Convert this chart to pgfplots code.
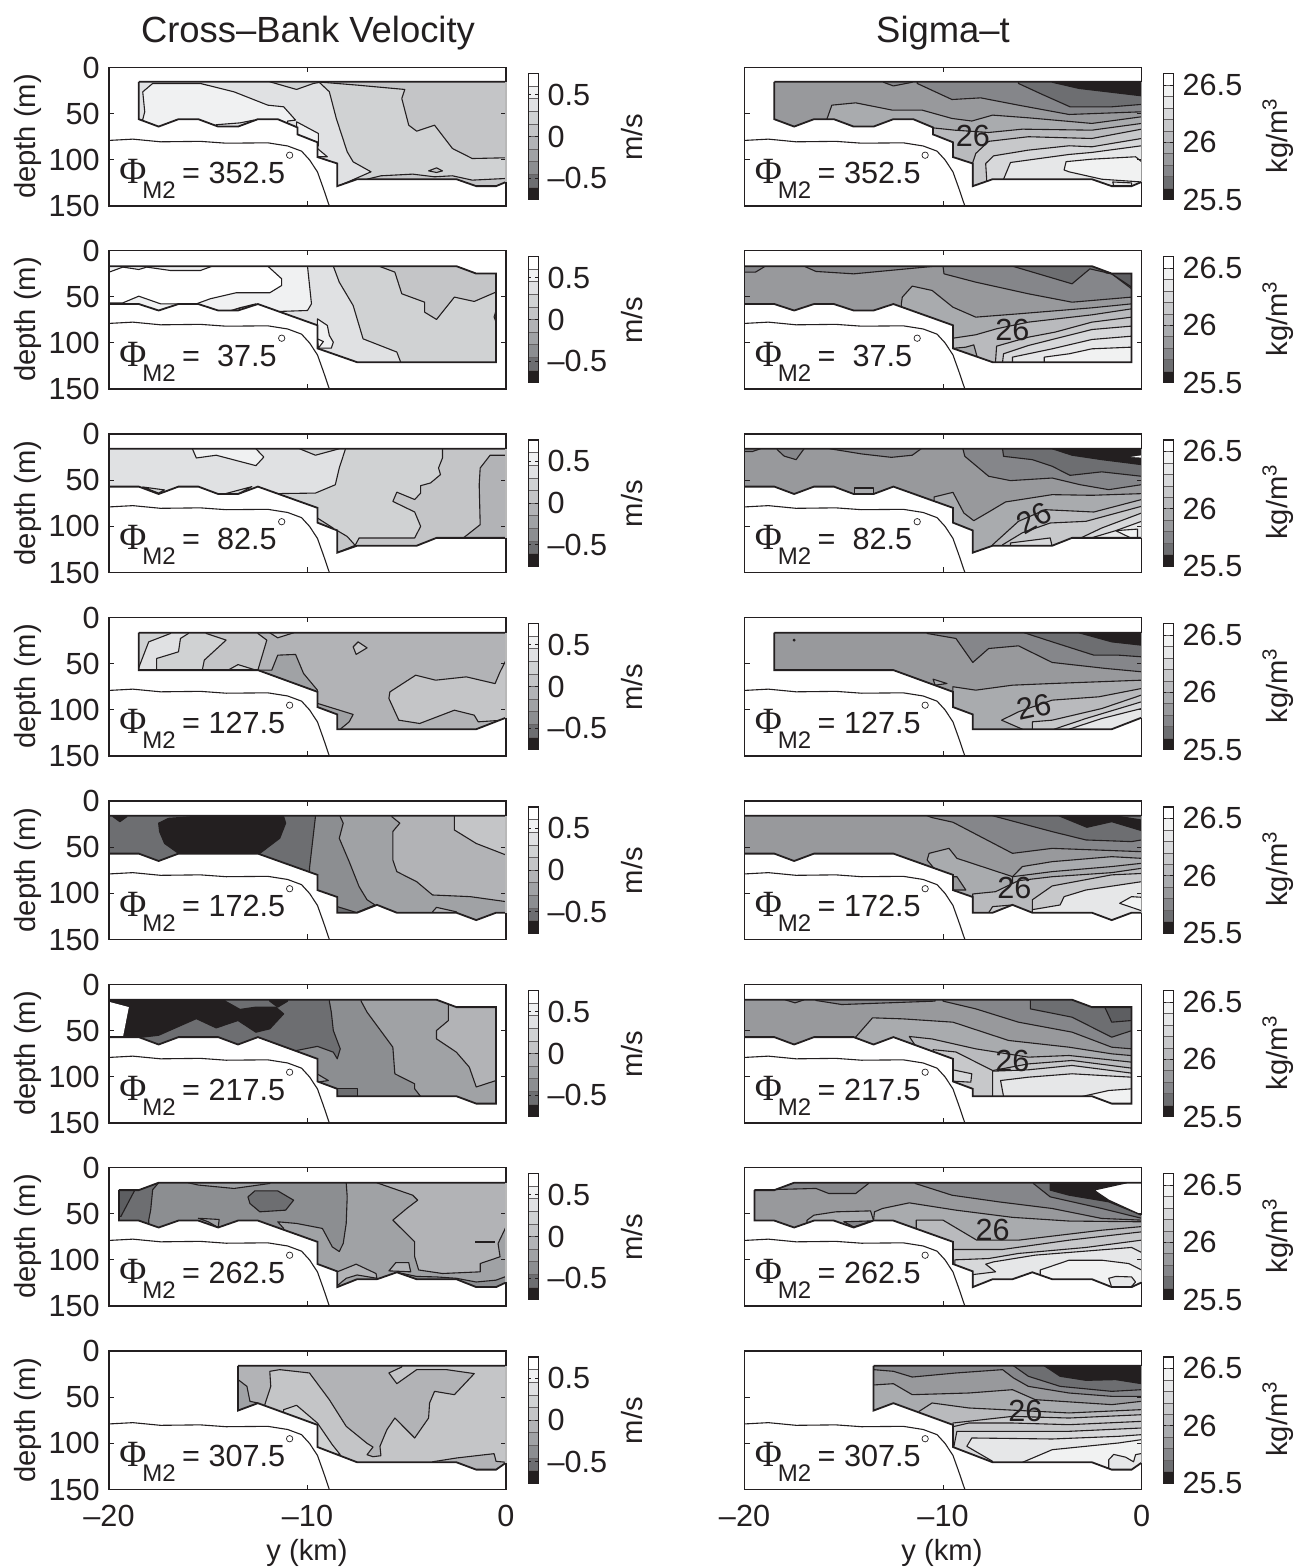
\documentclass[border=0pt]{standalone}
\usepackage{pgfplots}
\pgfplotsset{compat=1.18}
\usepackage{fontspec}
\setmainfont{Liberation Sans}
\newfontfamily\phifont{Liberation Serif}
\definecolor{txt}{HTML}{231F20}
\definecolor{V1}{HTML}{231F20}\definecolor{V2}{HTML}{6D6E71}\definecolor{V3}{HTML}{8C8E91}
\definecolor{V4}{HTML}{A0A2A5}\definecolor{V5}{HTML}{B2B3B6}\definecolor{V6}{HTML}{C4C5C7}
\definecolor{V7}{HTML}{D0D2D3}\definecolor{V8}{HTML}{E0E1E3}\definecolor{V9}{HTML}{F0F1F2}\definecolor{V10}{HTML}{FFFFFF}
\definecolor{VD}{HTML}{5D5E61}
\definecolor{D1}{HTML}{231F20}\definecolor{D2}{HTML}{6D6E71}\definecolor{D3}{HTML}{85868A}
\definecolor{D4}{HTML}{98999C}\definecolor{D5}{HTML}{A9ABAE}\definecolor{D6}{HTML}{B9BABD}
\definecolor{D7}{HTML}{C7C8CA}\definecolor{D8}{HTML}{D7D8DA}\definecolor{D9}{HTML}{E6E7E8}\definecolor{D10}{HTML}{F1F2F2}
\pgfplotsset{
 panel/.style={scale only axis,width=198.5pt,height=69.25pt,xmin=-20,xmax=0,ymin=0,ymax=150,y dir=reverse,
  anchor=north west,xtick={-20,-10,0},ytick={0,50,100,150},xticklabels={},yticklabels={},
  tick align=inside,major tick length=2.5pt,axis on top,
  every tick/.style={draw=txt,line width=.4pt},axis line style={draw=txt,line width=.9pt},
  tick label style={font=\fontsize{15.3}{15.3}\selectfont,inner sep=0pt},
  yticklabel style={xshift=-4.5pt},xticklabel style={yshift=-7.5pt}},
 lft/.style={at={({109*0.5pt},{(1568-#1)*0.5pt})}},
 rgt/.style={at={({744.5*0.5pt},{(1568-#1)*0.5pt})}},
 ylab/.style={yticklabels={0,50,100,150}},
 xlab/.style={xticklabels={–20,–10,0}},
 cb/.style={scale only axis,width=5pt,height=63pt,xmin=0,xmax=1,anchor=north west,xtick=\empty,
  tick align=inside,major tick length=1.5pt,axis on top,yticklabel pos=right,ytick pos=both,
  every tick/.style={draw=txt,line width=.4pt},axis line style={draw=txt,line width=.7pt},
  tick label style={font=\fontsize{15.3}{15.3}\selectfont,inner sep=0pt},yticklabel style={xshift=4.5pt}}
}
\newcommand\R[2]{\addplot[fill=#1,draw=txt,line width=.55pt,line join=round] coordinates {#2} -- cycle;}
\newcommand\B[1]{\addplot[fill=#1,draw=none] coordinates {(-25,-5)(5,-5)(5,200)(-25,200)} -- cycle;}
\newcommand\M[2]{%
 \addplot[fill=white,draw=none,even odd rule] coordinates {(-30,-20)(10,-20)(10,200)(-30,200)(-30,-20) #1 #2 #1} -- cycle;
 \addplot[draw=txt,line width=.9pt,line join=miter] coordinates {#1 #2 #1};
 \addplot[draw=txt,line width=.55pt] coordinates {(-20,79)(-18.8,77.6)(-17.4,80.5)(-15.4,80)(-14.1,82)(-12,81.6)(-11,85)(-10.3,90.6)(-9.9,100)(-9.5,113)(-9.2,131)(-8.9,150)};}
\newcommand\Ann[2]{%
 \node[anchor=base west,inner sep=0pt] at (axis cs:-19.5,125.5) {\fontsize{15.3}{15.3}\selectfont{\phifont\fontsize{18.5}{18.5}\selectfont Φ}\kern-2pt\raisebox{-7.5pt}{\fontsize{12}{12}\selectfont M2}\kern-1pt{} = #1};
 \addplot[only marks,mark=o,mark size=1.6pt,mark options={draw=txt,fill=white,line width=.35pt}] coordinates {(#2,95)};}
\newcommand\Lab[3]{\node[rotate=#3,inner sep=0pt] at (axis cs:#1,#2) {\fontsize{15.3}{15.3}\selectfont 26};}
\newcommand\Cell[3]{\addplot[fill=#1,draw=txt!70,line width=.25pt] coordinates {(0,#2)(1,#2)(1,#3)(0,#3)} -- cycle;}
\newcommand\At[3][]{\node[inner sep=0pt,#1] at ({#2*0.5pt},{(1568-(#3))*0.5pt})}
\begin{document}
\color{txt}
\begin{tikzpicture}
\path[use as bounding box] (0,0) rectangle (647.5pt,784pt);
% ---------- left column: cross-bank velocity
\begin{axis}[panel,lft=67.5,ylab]
\B{V7}
\R{V8}{(-11.9,15.5)(-10.55,23.8)(-9.7,17.3)(-9.4,16.2)(-8.9,26.3)(-8.55,55.2)(-8,91.3)(-7.7,102.2)(-6.8,113)(-8.5,129)(-8.5,170)(-25,170)(-25,10)(-11.9,10)}
\R{V9}{(-18.3,56.3)(-18.2,48)(-18.3,26.4)(-17.8,17.3)(-15.4,17.3)(-13.7,26.4)(-12,40.8)(-11.2,42.6)(-10.6,57)(-11,58)(-11,80)(-18.3,80)}
\R{V8}{(-14.6,62)(-13.4,60)(-12.7,57)(-13.3,66)(-14.5,66)}
\R{V9}{(-10.55,58.8)(-9.45,71.5)(-9.45,85)(-10.55,78)}
\R{V9}{(-9.5,87.7)(-9,96.7)(-9.5,96.7)}
\R{V6}{(-9.55,15.5)(-7.5,19.1)(-5.1,23.8)(-5.25,33.6)(-4.9,62.5)(-4.5,69)(-3.6,62.5)(-2.7,87.7)(-1.7,98.6)(0,97.8)(5,97.8)(5,10)(-9.55,10)}
\R{V6}{(-7,121)(-6.3,117.3)(-4.7,115.5)(-3.6,118.4)(-2.7,117.3)(-1.7,122)(0,120.2)(5,120.2)(5,170)(-7,170)}
\R{V6}{(-3.9,112)(-3.5,108.7)(-3.2,112)(-3.5,113.7)}
\M{(-18.5,15.5)}{(3,15.5)(3,124)(0,124)(-0.5,128.5)(-1.5,128.5)(-2.5,121)(-7.5,121)(-8.5,128.5)(-8.5,104)(-9.5,97)(-9.5,81)(-10.5,72.5)(-10.5,65)(-11.5,56)(-12.5,56)(-13.5,64)(-14.5,64)(-15.5,56)(-16.5,56)(-17.5,64)(-18.5,56)}
\Ann{352.5}{-10.9}
\end{axis}
\begin{axis}[panel,lft=250.5,ylab]
\B{V7}
\R{V8}{(-8.7,17)(-8.4,34.3)(-7.7,59.6)(-7.2,95.7)(-5.5,110)(-5.3,121.3)(-5.3,170)(-25,170)(-25,10)(-8.7,10)}
\R{V9}{(-10,17)(-9.8,57.8)(-10,65)(-11.4,66)(-11.4,170)(-25,170)(-25,10)(-10,10)}
\R{V10}{(-25,23.5)(-20,23.5)(-19.3,18)(-18.5,20.6)(-18.1,18)(-16.9,21.7)(-15.4,21.7)(-14.8,17)(-12,17)(-11.3,30.7)(-11.3,37.9)(-11.9,45.8)(-13.6,45.8)(-14.9,52.3)(-15.6,57.8)(-17.4,57.8)(-18.5,49.5)(-19.3,56.7)(-25,56.7)}
\R{V8}{(-14,66)(-12.6,57.8)(-13.4,62)}
\R{V6}{(-6.4,17)(-5.6,23.4)(-5.25,46.9)(-4.1,56)(-4.1,66.8)(-3.5,74.7)(-2.6,50.5)(-1.6,55.2)(-0.5,45)(5,45)(5,10)(-6.4,10)}
\R{V9}{(-9.5,74)(-9,81.2)(-8.9,92)(-8.7,99.3)(-8.8,105.8)(-9.5,105.8)}
\R{V10}{(-9.5,95.7)(-9.2,98.6)(-9.45,105.8)}
\R{V8}{(-0.5,65)(-0.6,72)(-0.5,77.6)}
\M{(-25,17)}{(-2.5,17)(-1.5,25)(-0.5,25)(-0.5,121)(-7.5,121)(-9.5,106)(-9.5,81)(-12.5,58)(-13.5,65)(-14.5,65)(-15.5,58)(-16.5,58)(-17.5,65)(-18.5,58)(-25,58)}
\Ann{\ 37.5}{-11.3}
\end{axis}
\begin{axis}[panel,lft=434,ylab]
\B{V6}
\R{V5}{(-0.8,23)(-1.3,36.8)(-1.35,54.9)(-1.3,98.2)(-2.15,112.6)(-2.15,170)(5,170)(5,23)}
\R{V7}{(-3.2,17)(-3.2,26)(-3.4,36.8)(-3.3,44)(-3.8,53)(-4.3,56)(-4.3,64)(-4.6,71)(-5.5,63)(-5.7,73)(-4.6,84.5)(-4.3,100)(-4.6,112.6)(-7.4,112.6)(-7.6,120.6)(-7.6,170)(-25,170)(-25,10)(-3.2,10)}
\R{V8}{(-8.1,17)(-8.4,36.8)(-8.6,55)(-9.6,64)(-11.6,64.6)(-11.6,170)(-25,170)(-25,10)(-8.1,10)}
\R{V7}{(-10.4,10)(-10.4,16)(-9.6,23)(-8.4,16)(-8.4,10)}
\R{V9}{(-15.8,16)(-15.6,26)(-14.6,23)(-12.6,34.3)(-12.2,25)(-12.6,16)(-12.6,10)(-15.8,10)}
\R{V7}{(-18.3,57.4)(-17.5,64)(-17.2,60.6)}
\R{V7}{(-14.2,65)(-12.8,57)(-13.5,65)}
\R{V6}{(-8.55,104)(-8,111)(-7.6,120.6)(-8.5,128.5)(-8.55,170)}
\R{V6}{(-9.5,91)(-8.7,102)(-9.5,100)}
\M{(-25,16)}{(3,16)(3,112.5)(-3.5,112.5)(-4.5,121)(-7.5,121)(-8.5,128.5)(-8.5,104.5)(-9.5,96)(-9.5,80)(-12.5,57)(-13.5,65)(-14.5,65)(-15.5,57)(-16.5,57)(-17.5,65)(-18.5,57)(-25,57)}
\Ann{\ 82.5}{-11.3}
\end{axis}
\begin{axis}[panel,lft=617.5,ylab]
\B{V5}
\R{V6}{(-12.5,10)(-12.5,17.3)(-12.05,24.5)(-12.5,57)(-12.5,170)(-25,170)(-25,10)}
\R{V6}{(-11.9,10)(-11.9,16.6)(-11.5,22)(-10.7,16.6)(-10.7,10)}
\R{V7}{(-15.1,10)(-15.1,17.3)(-14.1,24.5)(-15.2,46.2)(-15.3,57)(-15.3,170)(-25,170)(-25,10)}
\R{V7}{(-14,57)(-13.5,51)(-12.6,57)(-12.6,65)(-14,65)}
\R{V8}{(-16,10)(-16,17.3)(-16.4,22.7)(-16.5,37.2)(-17.6,44.4)(-17.6,57)(-17.6,170)(-25,170)(-25,10)}
\R{V7}{(-25,10)(-16.9,10)(-16.9,17.3)(-18,26.4)(-18.55,57)(-18.55,170)(-25,170)}
\R{V4}{(-12.5,57)(-11.8,57)(-11.5,40.8)(-10.6,40)(-10.2,60.6)(-9.5,78.7)(-9.5,100)(-12.5,100)}
\R{V4}{(-9.5,93)(-7.7,105)(-7.9,113)(-8.35,121)(-8.5,170)(-9.5,170)}
\R{V6}{(0,46.2)(-0.3,58.9)(-0.55,71.6)(-2,64.3)(-3.55,67.9)(-4.55,62.5)(-5.85,80.6)(-5.9,87.7)(-5.4,111.2)(-4.35,114.8)(-2.6,100.4)(-1.6,105.8)(-1.4,113)(0,111)(5,111)(5,46.2)}
\R{V6}{(-7.7,31.8)(-7.45,26.4)(-7,32.9)(-7.55,40)}
\M{(-18.5,16.5)}{(3,16.5)(3,108.5)(0,108.5)(-1.5,121)(-8.5,121)(-8.5,105)(-9.5,97)(-9.5,80.5)(-12.5,57)(-18.5,57)}
\Ann{127.5}{-10.9}
\end{axis}
\begin{axis}[panel,lft=801,ylab]
\B{V5}
\R{V6}{(-2.6,10)(-2.6,16.9)(-2.6,31.4)(-1.5,46)(0,58.5)(5,58.5)(5,10)}
\R{V4}{(-5.75,17)(-5.35,24)(-5.7,33)(-5.7,64)(-5.5,76.5)(-4.5,87.4)(-3.7,101.8)(-1.8,103.6)(0,109)(5,109)(5,170)(-25,170)(-25,10)(-5.75,10)}
\R{V5}{(-3.7,120)(-3.5,115.2)(-2.5,120)(-2.5,125)(-3.7,125)}
\R{V3}{(-8.35,17)(-8.2,24)(-8.4,40.4)(-7.9,65.7)(-7.4,92.8)(-7,107)(-6.6,112.6)(-7.55,121)(-7.55,170)(-25,170)(-25,10)(-8.35,10)}
\R{V2}{(-9.6,17)(-9.9,73)(-9.9,170)(-25,170)(-25,10)(-9.6,10)}
\R{V2}{(-8.5,114.4)(-7.5,121)(-8.5,121)}
\R{V1}{(-15.4,10)(-11.3,10)(-11.1,24)(-11.4,40.4)(-12.4,56.7)(-12.4,70)(-16.5,70)(-16.5,56.7)(-17.2,46)(-17.45,33.2)(-17.5,24)(-17,18.8)(-15.4,16.3)}
\R{V1}{(-19.8,10)(-19.8,17)(-19.45,22.4)(-19.1,17)(-19.1,10)}
\M{(-25,16)}{(3,16)(3,121)(-0.5,121)(-1.5,129)(-2.5,121)(-5.5,121)(-6.5,112.5)(-7.5,121)(-8.5,121)(-8.5,104)(-9.5,96.5)(-9.5,80)(-12.5,57)(-16.5,57)(-17.5,65)(-18.5,57)(-25,57)}
\Ann{172.5}{-10.9}
\end{axis}
\begin{axis}[panel,lft=984.5,ylab]
\B{V3}
\R{V4}{(-7.3,10)(-7.3,18)(-7,30)(-5.7,67.9)(-5.6,96.7)(-4.6,107.6)(-4.6,113)(-4.3,121.3)(-4.3,170)(5,170)(5,10)}
\R{V5}{(-2.9,24.5)(-2.9,39)(-3.5,49.8)(-3.5,58.9)(-2.5,73.3)(-1.85,89.5)(-1.5,111)(-0.5,104)(5,104)(5,10)(-2.9,10)}
\R{V2}{(-8.9,10)(-8.9,18)(-8.8,30)(-8.7,49.8)(-8.35,69.7)(-8.5,80.5)(-8.7,73.3)(-9.5,67)(-10.55,71.5)(-10.55,170)(-25,170)(-25,10)}
\R{V2}{(-8.5,113)(-7.5,113)(-7.5,121)(-8.5,121)}
\R{V4}{(-9.5,97)(-8.95,104)(-9.5,105.8)}
\R{V1}{(-19.3,57)(-18.3,57)(-17.5,55)(-15.6,37)(-14.6,47)(-13.5,39)(-12.6,51.7)(-11.9,48)(-11.2,31.8)(-11.6,24.5)(-12.6,24.5)(-13.4,27)(-14.15,18)(-14.15,10)(-25,10)(-25,70)(-19.3,70)}
\R{V1}{(-11.9,10)(-11.9,18)(-11.5,24.5)(-11,18)(-11,10)}
\addplot[fill=white,draw=none] coordinates {(-25,18.8)(-20,18.8)(-19,24.5)(-19.3,57)(-19.3,70)(-25,70)} -- cycle;
\M{(-25,16.5)}{(-3.5,16.5)(-2.5,24.5)(-0.5,24.5)(-0.5,129)(-1.5,129)(-2.5,121)(-8.5,121)(-8.5,113)(-9.5,105)(-9.5,80.5)(-12.5,57)(-13.5,65)(-14.5,57)(-16.5,57)(-17.5,65)(-18.5,57)(-25,57)}
\Ann{217.5}{-10.9}
\end{axis}
\begin{axis}[panel,lft=1167.5,ylab]
\B{V5}
\R{V4}{(-6.5,16.6)(-4.7,30)(-4.45,35.4)(-5,44.4)(-5.7,57)(-4.6,80.5)(-4.6,96.7)(-4.4,111)(-3.2,114.8)(-1.3,113)(-1.3,104)(-0.3,96.7)(-0.4,82.3)(0,64.3)(5,64.3)(5,170)(-25,170)(-25,10)(-6.5,10)}
\R{V5}{(-8.5,113)(-7.55,104.7)(-6.55,114.8)(-6.5,120)(-7.5,116.4)(-8.05,120)(-8.5,128)}
\R{V5}{(-5.9,112)(-5.55,103)(-4.9,103)(-4.8,113)(-5.5,112.3)}
\R{V3}{(-8.05,16.6)(-8,31.8)(-8.05,60.6)(-8.2,82.3)(-8.4,91)(-8.75,86)(-9.25,66)(-10.55,60.6)(-11.5,58.8)(-11.2,66)(-11.2,170)(-25,170)(-25,10)(-8.05,10)}
\R{V4}{(-16,10)(-16,16.6)(-15.5,19)(-13.7,22.7)(-11.9,17.3)(-11.9,10)}
\R{V4}{(-15.5,55)(-14.45,56.3)(-14.5,65)(-15,58.8)}
\R{V2}{(-25,10)(-17.5,10)(-17.5,16.6)(-17.8,24)(-17.9,46)(-18,57)(-18,170)(-25,170)}
\R{VD}{(-19.5,24.5)(-18.7,24.5)(-19.4,53)(-25,53)(-25,24.5)}
\R{V2}{(-13,31.8)(-12.65,25.3)(-11.5,25.3)(-10.7,35.4)(-11.1,46.2)(-12.4,48)(-12.9,39)}
\addplot[draw=txt,line width=1pt] coordinates {(-1.55,80.5)(-0.55,80.5)};
\R{V3}{(-5.5,113.5)(-4.5,118)(-3.5,118.5)(-2.5,120)(-1.5,124)(-0.5,122)(0,118)(5,118)(5,170)(-5.5,170)}
\M{(-19.5,24.5)}{(-18.5,24.5)(-17.5,16.5)(3,16.5)(3,124.5)(0,124.5)(-0.5,129.5)(-1.5,129.5)(-2.5,121)(-4.5,121)(-5.5,113.5)(-6.5,121)(-7.5,121)(-8.5,129.5)(-8.5,112.5)(-9.5,104.5)(-9.5,80.5)(-12.5,57.5)(-13.5,57.5)(-14.5,65)(-15.5,57.5)(-16.5,57.5)(-17.5,65)(-18.5,57.5)(-19.5,57.5)}
\Ann{262.5}{-10.9}
\end{axis}
\begin{axis}[panel,lft=1351,ylab,xlab]
\B{V6}
\R{V5}{(-25,10)(-5.25,10)(-5.25,17.3)(-5.9,23.8)(-5.5,35.4)(-4.5,20.2)(-3,20.2)(-1.6,24.5)(-2.6,47.3)(-3.6,43.7)(-3.85,56.3)(-3.9,72.6)(-4.6,94.2)(-5.6,72.6)(-6,85.2)(-6.35,103.2)(-6.3,113.4)(-6.7,114.5)(-7,112.3)(-6.7,104)(-7,100)(-8.05,81.6)(-8.9,52.7)(-9.9,23.8)(-11.4,20.2)(-11.9,22)(-11.85,38.3)(-12.15,58)(-12.15,170)(-25,170)}
\R{V7}{(-11.2,63.5)(-10.55,58.8)(-9.5,78)(-8.75,101.5)(-8.35,112.3)(-9.5,110)(-9.5,100)(-11.2,80)}
\R{V4}{(-13.5,31)(-13.05,38.3)(-12.9,54.5)(-12.5,56.3)(-12.5,70)(-14,70)(-14,31)}
\R{V5}{(-3.7,120)(-2.5,115.9)(-1.5,113.4)(-0.6,111.2)(-0.5,119.5)(0,120.5)(5,120.5)(5,170)(-3.7,170)}
\M{(-13.5,16)}{(3,16)(3,121)(0,121)(-0.5,128.5)(-1.5,128.5)(-2.5,120.5)(-7.5,120.5)(-9.5,104)(-9.5,80)(-12.5,56.5)(-13.5,64.5)}
\Ann{307.5}{-10.9}
\end{axis}
% ---------- right column: sigma-t
\begin{axis}[panel,rgt=67.5]
\B{D4}
\R{D3}{(-11.3,17.3)(-9.55,34.7)(-8.1,32.9)(-6.2,40.8)(-3.65,50.9)(0,48)(5,48)(5,5)(-11.3,5)}
\R{D3}{(-13,16)(-12.5,20)(-11.55,16)(-11.55,5)(-13,5)}
\R{D2}{(-6.2,17.3)(-5,29.2)(-3.6,42.6)(-1.5,42.6)(0,40)(5,40)(5,5)(-6.2,5)}
\R{D1}{(-4.5,16)(-3.15,22.7)(0,30.7)(5,30.7)(5,5)(-4.5,5)}
\R{D5}{(-15.85,56)(-15.6,40.8)(-14.4,38.3)(-12.55,46.2)(-11.05,46.2)(-9.55,55.2)(-8.55,58)(-7.5,51.6)(-5.7,54.5)(-2.5,60.6)(0,53.4)(5,53.4)(5,170)(-15.85,170)}
\R{D6}{(-10.55,65.3)(-9.4,67.9)(-7.7,70.4)(-6,66.8)(-2.5,67.9)(0,60.6)(5,60.6)(5,170)(-10.55,170)}
\R{D7}{(-8.5,102.9)(-8.35,93.1)(-7.7,80)(-5.7,75)(-2.5,76.9)(0,66.8)(5,66.8)(5,170)(-8.5,170)}
\R{D8}{(-7.8,121)(-7.85,104)(-7.45,95.7)(-5.7,89.5)(-3.65,84.8)(-2.5,85.9)(0,76.9)(5,76.9)(5,170)(-7.8,170)}
\R{D9}{(-6.95,121)(-6.6,102.9)(-3.65,94.2)(-2.5,92)(0,84.8)(5,84.8)(5,170)(-6.95,170)}
\R{D10}{(-3.9,111)(-3.8,102)(-2.5,99.3)(-0.3,96.7)(0,102)(5,102)(5,125)(0,124)(-2,121)(-3.65,113)}
\R{D9}{(-1.45,124)(-0.5,125)(-0.5,128)(-1.4,128)}
\M{(-18.5,15.5)}{(3,15.5)(3,124)(0,124)(-0.5,128.5)(-1.5,128.5)(-2.5,121)(-7.5,121)(-8.5,128.5)(-8.5,104)(-9.5,97)(-9.5,81)(-10.5,72.5)(-10.5,65)(-11.5,56)(-12.5,56)(-13.5,64)(-14.5,64)(-15.5,56)(-16.5,56)(-17.5,64)(-18.5,56)}
\Ann{352.5}{-10.9}
\Lab{-8.5}{74}{0}
\end{axis}
\begin{axis}[panel,rgt=250.5]
\B{D4}
\R{D3}{(-10,17)(-9.95,25.3)(-8.35,34.3)(-5.7,46.9)(-3.5,56)(-0.5,50.5)(5,50.5)(5,5)(-10,5)}
\R{D3}{(-17,17)(-16.4,22.7)(-14.5,25.3)(-10.4,17)(-10.4,5)(-17,5)}
\R{D3}{(-20,23.5)(-19.45,23.5)(-18.95,17)(-18.95,5)(-25,5)(-25,23.5)}
\R{D2}{(-6.5,17)(-3.5,36.1)(-2.6,19.9)(-1.5,25.3)(-0.5,41.5)(5,41.5)(5,5)(-6.5,5)}
\R{VD}{(-1.8,24.2)(-0.5,24.2)(-0.5,39.7)(-1.5,25.3)}
\R{D5}{(-12.1,57.8)(-12.05,50.5)(-11.55,38.6)(-10.55,43.3)(-9.5,61.4)(-8.35,72.2)(-6.2,68.6)(-2.5,62.1)(-0.5,57.8)(5,57.8)(5,170)(-12.1,170)}
\R{D6}{(-9.5,95)(-8.35,91.3)(-7.3,84.8)(-5.7,77.6)(-2.5,69.7)(-0.5,63.2)(5,63.2)(5,170)(-9.5,170)}
\R{D5}{(-9.5,106)(-8.85,104.7)(-8.45,102.2)(-8.3,113.7)(-8.3,120)(-9,125)}
\R{D7}{(-7.35,119)(-7.3,103.6)(-5.7,93.9)(-4.35,88.4)(-2.5,77.6)(-0.5,72.2)(5,72.2)(5,170)(-7.35,170)}
\R{D8}{(-7,121)(-6.95,111.9)(-5.7,102.9)(-2.5,85.6)(-0.5,81.9)(5,81.9)(5,170)(-7,170)}
\R{D9}{(-6.5,115.5)(-4.5,106.5)(-2.5,96.4)(-0.5,92.8)(5,92.8)(5,170)(-6.5,170)}
\R{D10}{(-4.9,115.5)(-3.65,111.9)(-2.5,106.5)(-0.5,104.7)(5,104.7)(5,170)(-4.9,170)}
\M{(-25,17)}{(-2.5,17)(-1.5,25)(-0.5,25)(-0.5,121)(-7.5,121)(-9.5,106)(-9.5,81)(-12.5,58)(-13.5,65)(-14.5,65)(-15.5,58)(-16.5,58)(-17.5,65)(-18.5,58)(-25,58)}
\Ann{\ 37.5}{-11.3}
\Lab{-6.5}{86.6}{0}
\end{axis}
\begin{axis}[panel,rgt=434]
\B{D4}
\R{D3}{(-9,16)(-8.9,24.2)(-7.7,45.8)(-6.6,50.5)(-4.5,47.7)(-3.1,54.9)(-1.65,60.3)(0,54.9)(5,54.9)(5,5)(-9,5)}
\R{D3}{(-18.35,17)(-18,24)(-17.4,27.8)(-17,16)(-17,5)(-18.35,5)}
\R{D3}{(-15.7,16)(-14.1,21.6)(-12.6,25.3)(-11.55,23)(-11.1,16)(-11.1,5)(-15.7,5)}
\R{D3}{(-25,19)(-19.6,19)(-19.2,16)(-19.2,5)(-25,5)}
\R{D2}{(-7,16)(-6.95,24.2)(-5.5,27.8)(-4.5,35)(-3.6,44.8)(-2,41)(0,45.8)(5,45.8)(5,5)(-7,5)}
\R{D1}{(-4.5,16)(-3.5,23)(-2,27.8)(0,33.2)(5,33.2)(5,5)(-4.5,5)}
\addplot[fill=white,draw=none] coordinates {(-0.55,24.9)(0,23.1)(0,25.6)} -- cycle;
\R{D5}{(-10.45,68.2)(-9.5,63.2)(-8.95,85.6)(-8.45,93.9)(-7.7,84.5)(-6.85,73.6)(-4.5,65.7)(-2.5,66.4)(0,64.6)(5,64.6)(5,170)(-10.45,170)}
\R{D6}{(-7.5,120)(-6.2,94.6)(-4.85,82)(-2.4,84.5)(0,71)(5,71)(5,170)(-7.5,170)}
\R{D7}{(-7,120)(-6,107)(-4.6,96.4)(-2.8,94.6)(0,78.3)(5,78.3)(5,170)(-7,170)}
\R{D8}{(-6.6,118)(-4.6,112.6)(-4.5,122)(-6.6,122)}
\R{D8}{(-3.1,113)(-2,101.8)(0,85.6)(5,85.6)(5,170)(-3.1,170)}
\R{D9}{(-2.6,113)(-1.3,104.7)(0,94.6)(5,94.6)(5,170)(-2.6,170)}
\R{D10}{(-1.3,104.7)(-0.2,103)(-0.2,112.6)(-0.5,113)}
\R{D5}{(-14.45,58.5)(-13.5,58.5)(-13.5,65)(-14.45,65)}
\M{(-25,16)}{(3,16)(3,112.5)(-3.5,112.5)(-4.5,121)(-7.5,121)(-8.5,128.5)(-8.5,104.5)(-9.5,96)(-9.5,80)(-12.5,57)(-13.5,65)(-14.5,65)(-15.5,57)(-16.5,57)(-17.5,65)(-18.5,57)(-25,57)}
\Ann{\ 82.5}{-11.3}
\Lab{-5.4}{91}{30}
\end{axis}
\begin{axis}[panel,rgt=617.5]
\B{D4}
\R{D3}{(-10.8,17.3)(-9.35,22.7)(-8.5,48.7)(-7.7,33.6)(-6.2,30.7)(-4.5,48.7)(-1.8,55.2)(0,58.8)(5,58.8)(5,5)(-10.8,5)}
\R{D2}{(-5.9,16.6)(-4.5,26.4)(-2.4,40.8)(-1.15,40.8)(0,42.6)(5,42.6)(5,5)(-5.9,5)}
\R{D1}{(-3.15,16.6)(-1.5,26.4)(0,30)(5,30)(5,5)(-3.15,5)}
\R{D5}{(-9.5,75)(-8.35,78.7)(-6.5,73.3)(-4.5,71.5)(0,67.9)(5,67.9)(5,170)(-9.5,170)}
\R{D5}{(-10.5,66.8)(-9.8,71.5)(-10.4,73.3)}
\R{D6}{(-6,121)(-7.05,111.2)(-6.2,102.2)(-4.5,89.5)(-2.15,85.9)(0,76.9)(5,76.9)(5,170)(-6,170)}
\R{D7}{(-5.5,121)(-5.5,113)(-4.5,111.2)(-2,98.6)(0,84)(5,84)(5,170)(-5.5,170)}
\R{D8}{(-4.4,121)(-2.8,109.4)(0,91.3)(5,91.3)(5,170)(-4.4,170)}
\R{D9}{(-3.65,121)(-2,109.4)(0,98.6)(5,98.6)(5,170)(-3.65,170)}
\addplot[only marks,mark=*,mark size=.5pt,mark options={draw=txt,fill=txt}] coordinates {(-17.5,24.5)};
\M{(-18.5,16.5)}{(3,16.5)(3,108.5)(0,108.5)(-1.5,121)(-8.5,121)(-8.5,105)(-9.5,97)(-9.5,80.5)(-12.5,57)(-18.5,57)}
\Ann{127.5}{-10.9}
\Lab{-5.4}{96.7}{12}
\end{axis}
\begin{axis}[panel,rgt=801]
\B{D4}
\R{D3}{(-10.8,16)(-10.55,18)(-9.5,23)(-6.5,56.7)(-4.5,51.3)(0,54.9)(5,54.9)(5,5)(-10.8,5)}
\R{D2}{(-7.5,16)(-4.5,33.2)(-2.8,42.2)(-0.5,44)(0,42.2)(5,42.2)(5,5)(-7.5,5)}
\R{D1}{(-4.15,16.2)(-2.75,28.5)(-1.5,22.4)(0,32.1)(0,20.6)(-1.2,16.5)}
\R{D5}{(-10.45,73)(-10.8,63.9)(-10.7,56.7)(-9.7,51.3)(-9.3,62.1)(-6.5,81.9)(-6,71)(-4.5,65.7)(-1.5,60.3)(0,62.1)(5,62.1)(5,170)(-10.45,170)}
\R{D5}{(-6.5,82)(-4.5,76.5)(-1.5,71)(0,67.5)(5,67.5)(5,170)(-6.5,170)}
\R{D4}{(-9.5,82)(-9.3,82)(-8.85,96.4)(-9.5,96.4)}
\R{D6}{(-8.5,100.7)(-7.35,98.2)(-6.2,86.3)(-4.5,82)(-1.5,77.6)(0,72.9)(5,72.9)(5,170)(-8.5,170)}
\R{D7}{(-5.5,118)(-5.5,107)(-4.5,92)(-1.5,80)(0,78.5)(5,78.5)(5,170)(-5.5,170)}
\R{D9}{(-5.5,117.7)(-4.1,112.6)(-3.9,103.6)(-2.8,96.4)(0,87.4)(5,87.4)(5,170)(-5.5,170)}
\R{D10}{(-1.1,110.8)(-0.5,103.6)(0,104.3)(5,104.3)(5,120)(0,118.8)(-0.5,115.2)}
\R{D7}{(-7.7,121)(-7.5,114.4)(-6.5,112.6)(-7.3,121)}
\M{(-25,16)}{(3,16)(3,121)(-0.5,121)(-1.5,129)(-2.5,121)(-5.5,121)(-6.5,112.5)(-7.5,121)(-8.5,121)(-8.5,104)(-9.5,96.5)(-9.5,80)(-12.5,57)(-16.5,57)(-17.5,65)(-18.5,57)(-25,57)}
\Ann{172.5}{-10.9}
\Lab{-6.4}{94.6}{0}
\end{axis}
\begin{axis}[panel,rgt=984.5]
\B{D4}
\R{D3}{(-17.95,16.6)(-17.45,19.9)(-17,16.6)(-17,5)(-17.95,5)}
\R{D3}{(-16.4,17.3)(-15.1,21.7)(-10.4,18)(-10.4,5)(-16.4,5)}
\R{D3}{(-10,18)(-8.35,26.4)(-6.2,40.8)(-3.5,51.6)(-1.5,67.9)(-0.5,69.7)(5,69.7)(5,5)(-10,5)}
\R{D2}{(-5.6,18)(-5.6,26.4)(-3.5,35.4)(-1.5,57.1)(-0.5,50)(5,50)(5,5)(-5.6,5)}
\R{VD}{(-1.85,24.5)(-1.5,40.8)(-0.5,39)(5,39)(5,5)(-1.85,5)}
\R{D5}{(-14.4,57)(-13.55,36.1)(-12.05,37.2)(-9.5,40.8)(-6.7,60.6)(-3.65,67.9)(-1.5,75.1)(-0.5,77)(5,77)(5,170)(-14.4,170)}
\R{D6}{(-11.4,66)(-11.7,56.3)(-10.55,59)(-8.35,69.7)(-5.7,78.7)(-3.65,76.9)(-0.5,84.1)(5,84.1)(5,170)(-11.4,170)}
\R{D7}{(-10.5,70.6)(-9.35,73.1)(-7.5,93.2)(-5.7,86)(-3.5,82.3)(-0.5,90.6)(5,90.6)(5,170)(-10.5,170)}
\R{D8}{(-7.5,93.9)(-5.7,92.4)(-3.5,87.7)(-0.5,96)(5,96)(5,170)(-7.5,170)}
\R{D9}{(-6.95,121.3)(-7.1,104)(-5.7,100.4)(-3.5,96.7)(-0.5,100.4)(5,100.4)(5,170)(-6.95,170)}
\R{D10}{(-3,121.3)(-1.65,114.8)(-0.5,113)(5,113)(5,170)(-3,170)}
\R{D8}{(-9.5,92.4)(-8.55,96.7)(-8.6,105.8)(-9.5,104.7)}
\M{(-25,16.5)}{(-3.5,16.5)(-2.5,24.5)(-0.5,24.5)(-0.5,129)(-1.5,129)(-2.5,121)(-8.5,121)(-8.5,113)(-9.5,105)(-9.5,80.5)(-12.5,57)(-13.5,65)(-14.5,57)(-16.5,57)(-17.5,65)(-18.5,57)(-25,57)}
\Ann{217.5}{-10.9}
\Lab{-6.5}{82.3}{0}
\end{axis}
\begin{axis}[panel,rgt=1167.5]
\B{D4}
\R{D3}{(-18.35,23.8)(-16.4,22.7)(-15.75,28.2)(-14.4,28.2)(-13.75,17.3)(-13.75,5)(-18.35,5)}
\R{D3}{(-11.4,17.3)(-9.55,30)(-7.2,37.2)(-4.5,44.4)(-2,55.2)(0,57)(5,57)(5,5)(-11.4,5)}
\R{D2}{(-5.45,17.3)(-4.6,31.8)(-2,44.4)(0,55)(5,55)(5,5)(-5.45,5)}
\R{D1}{(-4.6,24.5)(-3.65,30)(-1.65,37.2)(0,51.6)(5,51.6)(5,5)(-4.6,5)}
\R{white}{(-0.75,16.6)(-2.4,24.5)(-1.65,35.4)(0,51.6)(5,51.6)(5,5)(-0.75,5)}
\R{D5}{(-16.85,57.1)(-16.5,51.6)(-15.4,48)(-13.65,47)(-13.5,57.4)(-13.5,170)(-16.85,170)}
\R{D5}{(-13.5,57.4)(-13.45,48)(-13.05,44.4)(-11.7,38.3)(-9.35,46.2)(-6.5,54)(-3.65,58)(0,58.8)(5,58.8)(5,170)(-13.5,170)}
\R{D3}{(-15,58.8)(-13.55,57.8)(-14.5,64.3)}
\R{D6}{(-11.35,65)(-11.35,57)(-10,57)(-8.3,78.7)(-6.2,78.7)(-2,67.9)(0,64)(5,64)(5,170)(-11.35,170)}
\R{D7}{(-9.5,88.8)(-7,88.8)(-3.65,78.7)(0,69.7)(5,69.7)(5,170)(-9.5,170)}
\R{D8}{(-9.4,100)(-7.7,98.6)(-6.2,93.1)(-2.8,86.6)(0,78.7)(5,78.7)(5,170)(-9.4,170)}
\R{D9}{(-7.85,104.7)(-7.45,102.2)(-5.35,94.9)(-0.5,86.6)(0,92)(5,92)(5,170)(-8.5,170)(-8.5,116)(-7.35,113)}
\R{D10}{(-5.1,111)(-3.65,100.4)(-2,100.4)(-0.65,104)(0,111)(5,111)(5,170)(-5.1,170)}
\R{D9}{(-1.65,120)(-1.3,118)(-0.5,118.5)(-0.3,124)(-0.55,130)(-1.5,130)}
\M{(-19.5,24.5)}{(-18.5,24.5)(-17.5,16.5)(3,16.5)(3,124.5)(0,124.5)(-0.5,129.5)(-1.5,129.5)(-2.5,121)(-4.5,121)(-5.5,113.5)(-6.5,121)(-7.5,121)(-8.5,129.5)(-8.5,112.5)(-9.5,104.5)(-9.5,80.5)(-12.5,57.5)(-13.5,57.5)(-14.5,65)(-15.5,57.5)(-16.5,57.5)(-17.5,65)(-18.5,57.5)(-19.5,57.5)}
\Ann{262.5}{-10.9}
\Lab{-7.5}{67.9}{0}
\end{axis}
\begin{axis}[panel,rgt=1351,xlab]
\B{D4}
\R{D3}{(-13.5,20.2)(-12.5,22)(-11.55,28.2)(-9.35,23.8)(-7,20.2)(-6.45,29.2)(-5.7,38.3)(-3.65,45.5)(-1.5,49.1)(0,49.1)(5,49.1)(5,5)(-13.5,5)}
\R{D2}{(-6.45,16)(-5.7,27.4)(-4.1,38.3)(-1.5,43.7)(0,41.9)(5,41.9)(5,5)(-6.45,5)}
\R{D1}{(-4.9,16)(-4.1,27.4)(-2.8,31.8)(-1.3,31)(0,35.4)(5,35.4)(5,5)(-4.9,5)}
\R{D5}{(-14,37.5)(-12.5,35.4)(-11.55,47.3)(-8.7,45.5)(-6.5,41.9)(-5.35,52.7)(-1.5,58.1)(0,54.5)(5,54.5)(5,170)(-14,170)}
\R{D6}{(-11.2,65.3)(-10.55,56.3)(-8.7,61.7)(-3.65,67.1)(0,63.5)(5,63.5)(5,170)(-11.2,170)}
\R{D7}{(-9.5,78)(-6.5,70.8)(-3.65,72.6)(0,69)(5,69)(5,170)(-9.5,170)}
\R{D7}{(-9.5,82)(-8.7,78)(-6.5,78)(-3.65,79.8)(0,76.2)(5,76.2)(5,170)(-9.5,170)}
\R{D8}{(-9.45,103.2)(-9.3,87)(-8.45,87)(-3.65,87)(0,83.4)(5,83.4)(5,170)(-9.45,170)}
\R{D9}{(-7.5,119.5)(-8.8,103.2)(-8.55,94.2)(-4.5,95.3)(-1.15,92.4)(0,90.6)(5,90.6)(5,170)(-7.5,170)}
\R{D10}{(-6,120.6)(-4.5,106.9)(-1.15,99.6)(0,96)(5,96)(5,170)(-6,170)}
\R{D9}{(-1.65,117.7)(-1.4,112)(-0.8,115)(-0.4,120)(-0.3,112.3)(0,111)(5,111)(5,170)(-1.65,170)}
\M{(-13.5,16)}{(3,16)(3,121)(0,121)(-0.5,128.5)(-1.5,128.5)(-2.5,120.5)(-7.5,120.5)(-9.5,104)(-9.5,80)(-12.5,56.5)(-13.5,64.5)}
\Ann{307.5}{-10.9}
\Lab{-5.85}{65.3}{0}
\end{axis}
% ---------- right frame edge, thin where the section reaches y = 0
\foreach \t/\a/\b in {67.5/15.5/124,434/16/112.5,617.5/16.5/108.5,801/16/121,1167.5/16.5/124.5,1351/16/121}{
\draw[line width=.9pt,color=black!28] ({506*0.5pt},{(1568-\t-\a/1.083)*0.5pt}) -- ({506*0.5pt},{(1568-\t-\b/1.083)*0.5pt});
}
\foreach \t/\a/\b in {67.5/15.5/124,434/16/112.5,617.5/16.5/108.5,801/16/121,1167.5/51.6/124.5,1351/16/121}{
\draw[line width=.9pt,color=black!40] ({1141.5*0.5pt},{(1568-\t-\a/1.083)*0.5pt}) -- ({1141.5*0.5pt},{(1568-\t-\b/1.083)*0.5pt});
}
% ---------- colour bars and units
\foreach \t in {67.5,250.5,434,617.5,801,984.5,1167.5,1351}{
\begin{axis}[cb,at={({528.3*0.5pt},{(1568-\t-6)*0.5pt})},ymin=-0.755,ymax=0.755,ytick={-0.5,0,0.5},yticklabels={–0.5,0,0.5}]
\Cell{V1}{-0.755}{-0.604}\Cell{V2}{-0.604}{-0.453}\Cell{V3}{-0.453}{-0.302}\Cell{V4}{-0.302}{-0.151}\Cell{V5}{-0.151}{0}
\Cell{V6}{0}{0.151}\Cell{V7}{0.151}{0.302}\Cell{V8}{0.302}{0.453}\Cell{V9}{0.453}{0.604}\Cell{V10}{0.604}{0.755}
\end{axis}
\begin{axis}[cb,at={({1163.3*0.5pt},{(1568-\t-6)*0.5pt})},ymin=25.5,ymax=26.6,ytick={25.5,26,26.5},yticklabels={25.5,26,26.5}]
\Cell{D1}{25.5}{25.6}\Cell{D2}{25.6}{25.7}\Cell{D3}{25.7}{25.8}\Cell{D4}{25.8}{25.9}\Cell{D5}{25.9}{26}\Cell{D6}{26}{26.1}
\Cell{D7}{26.1}{26.2}\Cell{D8}{26.2}{26.3}\Cell{D9}{26.3}{26.4}\Cell{D10}{26.4}{26.5}\Cell{white}{26.5}{26.6}
\end{axis}
\At[rotate=90,anchor=base]{642}{\t+69.5}{\fontsize{14.6}{14.6}\selectfont m/s};
\At[rotate=90,anchor=base]{1287}{\t+68}{\fontsize{14.6}{14.6}\selectfont kg/m\textsuperscript{3}};
\At[rotate=90,anchor=base]{35}{\t+69}{\fontsize{14.6}{14.6}\selectfont depth (m)};
}
\At[anchor=base]{308}{43}{\fontsize{18.2}{18.2}\selectfont Cross–Bank Velocity};
\At[anchor=base]{943}{43}{\fontsize{18.2}{18.2}\selectfont Sigma–t};
\At[anchor=base]{307}{1561}{\fontsize{14.6}{14.6}\selectfont y (km)};
\At[anchor=base]{942}{1561}{\fontsize{14.6}{14.6}\selectfont y (km)};
\end{tikzpicture}
\end{document}
